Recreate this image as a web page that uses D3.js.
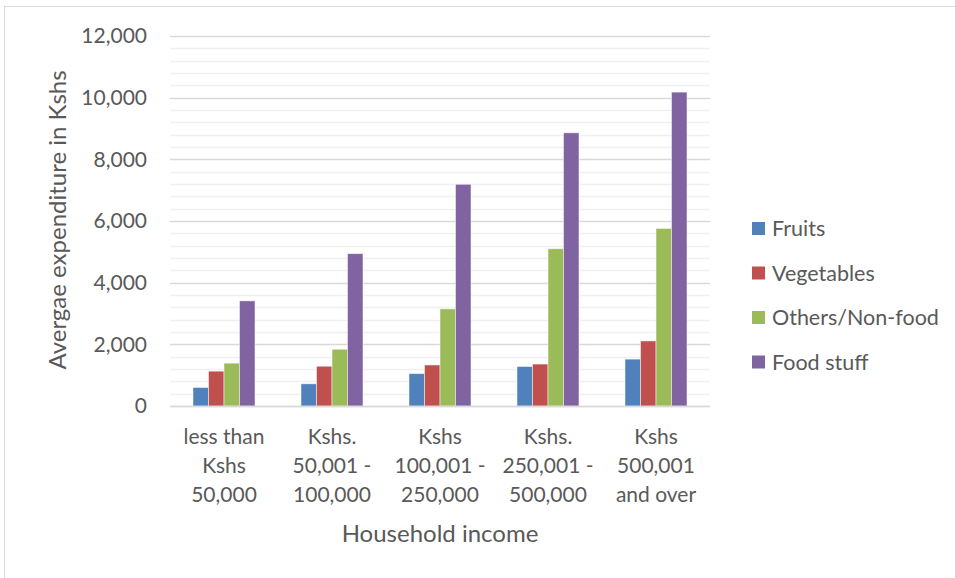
<!DOCTYPE html>
<html>
<head>
<meta charset="utf-8">
<script src="https://cdn.jsdelivr.net/npm/d3@7"></script>
<style>
  html, body { margin: 0; padding: 0; background: #fff; }
  svg { display: block; }
  text { font-family: Lato, "Open Sans", sans-serif; fill: #595959; }
</style>
</head>
<body>
<svg id="chart" width="955" height="578"></svg>
<script>
// Income brackets (multi-line labels)
const categories = [
  ["less than", "Kshs", "50,000"],
  ["Kshs.", "50,001 -", "100,000"],
  ["Kshs", "100,001 -", "250,000"],
  ["Kshs.", "250,001 -", "500,000"],
  ["Kshs", "500,001", "and over"]
];
const seriesNames = ["Fruits", "Vegetables", "Others/Non-food", "Food stuff"];
const seriesColors = ["#4F81BD", "#C0504D", "#9BBB59", "#8064A2"];
const fruits     = [600, 720, 1050, 1280, 1520];
const vegetables = [1130, 1290, 1330, 1360, 2110];
const others     = [1390, 1840, 3150, 5100, 5760];
const foodStuff  = [3410, 4940, 7190, 8860, 10180];
const yTicks = [0, 2000, 4000, 6000, 8000, 10000, 12000];
const yMinorStep = 400;

const seriesValues = [fruits, vegetables, others, foodStuff];
const catKeys = categories.map((c, i) => "c" + i);

const svg = d3.select("#chart");

// outer chart frame
svg.append("rect")
  .attr("x", 4.5).attr("y", 6.5)
  .attr("width", 1000).attr("height", 700)
  .attr("fill", "none").attr("stroke", "#D9D9D9").attr("stroke-width", 1);

const plot = { left: 170, right: 710, top: 36, bottom: 406 };

const y = d3.scaleLinear().domain([0, 12000]).range([plot.bottom, plot.top]);
const x0 = d3.scaleBand().domain(catKeys).range([plot.left, plot.right])
  .paddingInner(0.426).paddingOuter(0.213);
const x1 = d3.scaleBand().domain(seriesNames).range([0, x0.bandwidth()]);

// minor gridlines
const minorTicks = d3.range(yMinorStep, 12000, yMinorStep).filter(v => v % 2000 !== 0);
svg.append("g").selectAll("line").data(minorTicks).join("line")
  .attr("x1", plot.left).attr("x2", plot.right)
  .attr("y1", d => Math.round(y(d)) + 0.5).attr("y2", d => Math.round(y(d)) + 0.5)
  .attr("stroke", "#F0F0F0").attr("stroke-width", 1.3);

// major gridlines
svg.append("g").selectAll("line").data(yTicks).join("line")
  .attr("x1", plot.left).attr("x2", plot.right)
  .attr("y1", d => Math.round(y(d)) + 0.5).attr("y2", d => Math.round(y(d)) + 0.5)
  .attr("stroke", "#D9D9D9").attr("stroke-width", 1.3);

// bars
const groups = svg.append("g").selectAll("g").data(catKeys).join("g")
  .attr("transform", d => `translate(${x0(d)},0)`);
groups.selectAll("rect")
  .data((d, i) => seriesNames.map((s, j) => ({ s, j, v: seriesValues[j][i] })))
  .join("rect")
  .attr("x", d => x1(d.s))
  .attr("width", x1.bandwidth())
  .attr("y", d => y(d.v))
  .attr("height", d => y(0) - y(d.v))
  .attr("fill", d => seriesColors[d.j])
  .attr("stroke", "#ffffff").attr("stroke-opacity", 0.6).attr("stroke-width", 0.8);

// baseline
svg.append("line")
  .attr("x1", plot.left).attr("x2", plot.right)
  .attr("y1", Math.round(y(0)) + 0.5).attr("y2", Math.round(y(0)) + 0.5)
  .attr("stroke", "#D9D9D9").attr("stroke-width", 1.3);

// y axis labels
const yAxis = d3.axisLeft(y).tickValues(yTicks).tickFormat(d3.format(",")).tickSize(0).tickPadding(0);
const yg = svg.append("g").attr("transform", `translate(${147},0)`).call(yAxis);
yg.select(".domain").remove();
yg.selectAll("text")
  .style("font-family", "Lato, 'Open Sans', sans-serif")
  .attr("fill", "#595959").attr("font-size", 21);

// category labels
const catG = svg.append("g").selectAll("text").data(catKeys).join("text")
  .attr("x", d => x0(d) + x0.bandwidth() / 2)
  .attr("y", 444)
  .attr("text-anchor", "middle")
  .attr("font-size", 21);
catG.selectAll("tspan")
  .data((d, i) => categories[i])
  .join("tspan")
  .attr("x", function() { return this.parentNode.getAttribute("x"); })
  .attr("dy", (d, i) => i === 0 ? 0 : 29)
  .text(d => d);

// axis titles
svg.append("text")
  .attr("x", (plot.left + plot.right) / 2).attr("y", 542)
  .attr("text-anchor", "middle").attr("font-size", 24)
  .text("Household income");

svg.append("text")
  .attr("transform", `translate(66,${(plot.top + plot.bottom) / 2 - 1}) rotate(-90)`)
  .attr("text-anchor", "middle").attr("font-size", 24)
  .text("Avergae expenditure in Kshs");

// legend
const legend = svg.append("g").selectAll("g").data(seriesNames).join("g")
  .attr("transform", (d, i) => `translate(752,${236 + i * 44.5})`);
legend.append("rect")
  .attr("x", 0).attr("y", -14).attr("width", 13).attr("height", 13)
  .attr("fill", (d, i) => seriesColors[i]);
legend.append("text")
  .attr("x", 20).attr("y", 0).attr("font-size", 21.5)
  .text(d => d);
</script>
</body>
</html>
